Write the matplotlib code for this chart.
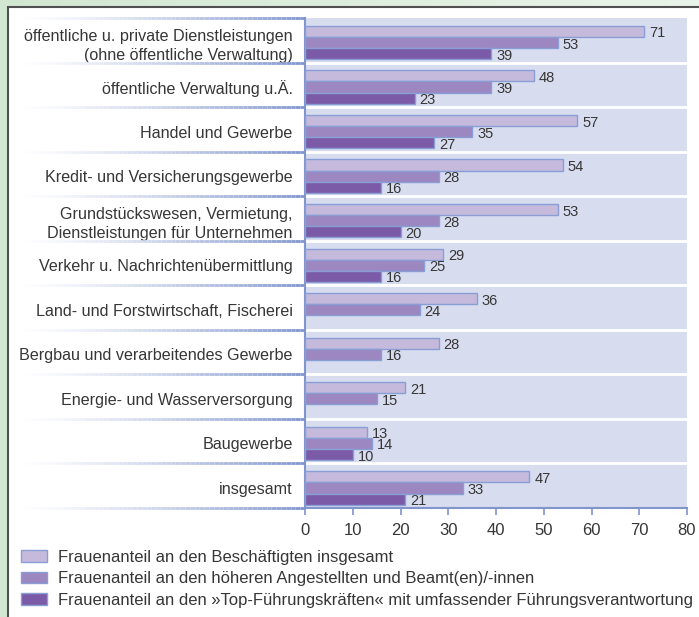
"""Frauenanteil nach Wirtschaftsbereichen – horizontal grouped bars."""

import matplotlib
matplotlib.use("Agg")
import matplotlib.pyplot as plt
import numpy as np
from matplotlib.collections import LineCollection
from matplotlib.patches import Patch, Rectangle

plt.rcParams['font.family'] = ['Liberation Sans', 'DejaVu Sans']

categories = [
    "öffentliche u. private Dienstleistungen\n(ohne öffentliche Verwaltung)",
    "öffentliche Verwaltung u.Ä.",
    "Handel und Gewerbe",
    "Kredit- und Versicherungsgewerbe",
    "Grundstückswesen, Vermietung,\nDienstleistungen für Unternehmen",
    "Verkehr u. Nachrichtenübermittlung",
    "Land- und Forstwirtschaft, Fischerei",
    "Bergbau und verarbeitendes Gewerbe",
    "Energie- und Wasserversorgung",
    "Baugewerbe",
    "insgesamt",
]
beschaeftigte = [71, 48, 57, 54, 53, 29, 36, 28, 21, 13, 47]
hoehere = [53, 39, 35, 28, 28, 25, 24, 16, 15, 14, 33]
top_fk = [39, 23, 27, 16, 20, 16, None, None, None, 10, 21]

series_labels = [
    "Frauenanteil an den Beschäftigten insgesamt",
    "Frauenanteil an den höheren Angestellten und Beamt(en)/-innen",
    "Frauenanteil an den »Top-Führungskräften« mit umfassender Führungsverantwortung",
]
x_ticks = [0, 10, 20, 30, 40, 50, 60, 70, 80]

colors = ['#c5badb', '#9c87c0', '#7b5ba7']
edge = '#8a9ed6'
axis_blue = '#7f95cc'
text_col = '#363636'

W, H = 699, 617
fig = plt.figure(figsize=(W / 100, H / 100), dpi=100)

# background: green gradient + white panel with dark border
bg = fig.add_axes([0, 0, 1, 1], zorder=-10)
grad = np.linspace(0, 1, 256)[None, :]
bg.imshow(grad, cmap=matplotlib.colors.LinearSegmentedColormap.from_list(
    'g', ['#d2e7d2', '#eaf4ea']), aspect='auto', extent=(0, 1, 0, 1))
bg.add_patch(Rectangle((8 / W, -0.1), 1.2, 1.1 - 7 / H, facecolor='white',
                       edgecolor='#505050', linewidth=1.5))
bg.set_xlim(0, 1)
bg.set_ylim(0, 1)
bg.axis('off')

# main axes: 0..80 spans px 305..687, groups span px 18..508
left, right, top, bottom = 305, 687, 18, 508
ax = fig.add_axes([left / W, 1 - bottom / H, (right - left) / W, (bottom - top) / H])
ax.set_facecolor('#d8dcef')

n = len(categories)
idx = np.arange(n)
bh = 0.25
offsets = [0.30, 0.55, 0.80]
for vals, off, c in zip([beschaeftigte, hoehere, top_fk], offsets, colors):
    for i, v in enumerate(vals):
        if v is None:
            continue
        ax.barh(i + off, v, height=bh, color=c, edgecolor=edge, linewidth=1, zorder=3)
        ax.annotate(str(v), (v, i + off), xytext=(3.5, -1.5), textcoords='offset points',
                    va='center', ha='left', fontsize=10.5, color=text_col, zorder=4)

for k in range(1, n):
    ax.axhline(k, color='white', linewidth=2, zorder=1)

ax.set_xlim(0, 80)
ax.set_ylim(n, 0)
ax.set_xticks(x_ticks)
ax.set_yticks(idx + 0.55)
ax.set_yticklabels(categories, fontsize=11.6, color=text_col, ha='right',
                   multialignment='right', linespacing=1.35)
ax.tick_params(axis='y', length=0, pad=9)
ax.tick_params(axis='x', length=5, width=1.2, color=axis_blue, labelsize=12,
               labelcolor=text_col, pad=6)
for s in ['top', 'right']:
    ax.spines[s].set_visible(False)
for s in ['left', 'bottom']:
    ax.spines[s].set_color(axis_blue)
    ax.spines[s].set_linewidth(1.5)

# gradient separators in the label area
x0, x1 = 17, left
nseg = 60
xs = np.linspace(x0, x1, nseg + 1)
white = np.array([1, 1, 1])
blue = np.array(matplotlib.colors.to_rgb(axis_blue))
for k in range(n + 1):
    ypx = top + k * (bottom - top) / n
    yf = 1 - ypx / H
    segs, cols = [], []
    for j in range(nseg):
        t = ((j + 0.5) / nseg) ** 1.3
        segs.append([(xs[j] / W, yf), (xs[j + 1] / W, yf)])
        cols.append(white * (1 - t) + blue * t)
    fig.add_artist(LineCollection(segs, colors=cols, linewidths=2,
                                  transform=fig.transFigure, zorder=2))

# legend
handles = [Patch(facecolor=c, edgecolor=edge, linewidth=1) for c in colors]
fig.legend(handles, series_labels, loc='upper left', bbox_to_anchor=(21 / W, 1 - 550 / H),
           frameon=False, fontsize=12, handlelength=1.55, handleheight=0.7,
           handletextpad=0.65, labelspacing=0.38, labelcolor=text_col, borderaxespad=0,
           borderpad=0)

fig.savefig('out.png', dpi=100)
